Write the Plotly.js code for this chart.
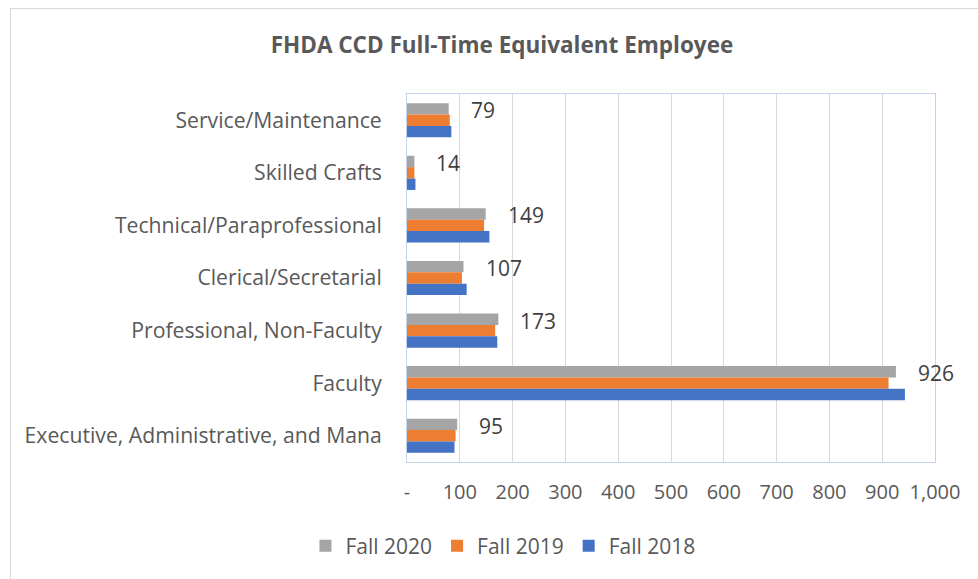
<!DOCTYPE html>
<html>
<head>
<meta charset="utf-8">
<script src="https://cdn.plot.ly/plotly-3.0.1.min.js"></script>
<style>
  html, body { margin: 0; padding: 0; background: #fff; overflow: hidden; width: 978px; height: 579px; }
  #frame { position: absolute; left: 10px; top: 8px; border-left: 1px solid #D9D9D9; border-top: 1px solid #D9D9D9; width: 1000px; height: 600px; overflow: hidden; }
  #chart { width: 980px; height: 580px; }
</style>
</head>
<body>
<div id="frame"><div id="chart"></div></div>
<script>
// Categories listed top to bottom as in the chart
const categories = [
  "Service/Maintenance",
  "Skilled Crafts",
  "Technical/Paraprofessional",
  "Clerical/Secretarial",
  "Professional, Non-Faculty",
  "Faculty",
  "Executive, Administrative, and Mana"
];
const fall2020 = [79, 14, 149, 107, 173, 926, 95];
const fall2019 = [81, 14, 146, 104, 167, 912, 92];
const fall2018 = [84, 16, 156, 113, 171, 943, 90];
const seriesNames = ["Fall 2020", "Fall 2019", "Fall 2018"];
const xTickVals = [0, 100, 200, 300, 400, 500, 600, 700, 800, 900, 1000];
const xTickText = ["-", "100", "200", "300", "400", "500", "600", "700", "800", "900", "1,000"];

const FONT = "'Open Sans', Lato, sans-serif";
const colors = ["#A5A5A5", "#ED7D31", "#4472C4"];
const seriesData = [fall2020, fall2019, fall2018];

const traces = seriesData.map((vals, i) => ({
  type: "bar",
  orientation: "h",
  name: seriesNames[i],
  x: vals,
  y: categories,
  marker: { color: colors[i] },
  hoverinfo: "x+name"
}));

const annotations = fall2020.map((v, i) => ({
  x: v,
  y: categories[i],
  xref: "x",
  yref: "y",
  text: String(v),
  showarrow: false,
  xanchor: "left",
  yanchor: "middle",
  xshift: 20,
  yshift: 10,
  font: { family: FONT, size: 21, color: "#404040" }
}));

const layout = {
  width: 980,
  height: 580,
  margin: { l: 396, r: 56, t: 85, b: 127 },
  paper_bgcolor: "#ffffff",
  plot_bgcolor: "#ffffff",
  barmode: "group",
  bargap: 0.35,
  bargroupgap: 0,
  title: {
    text: "<b>FHDA CCD Full-Time Equivalent Employee</b>",
    font: { family: FONT, size: 22.5, color: "#595959" },
    x: 0.501,
    xref: "container",
    xanchor: "center",
    y: 0.938,
    yref: "container",
    yanchor: "middle"
  },
  xaxis: {
    range: [0, 1000],
    tickvals: xTickVals,
    ticktext: xTickText,
    showgrid: true,
    gridcolor: "#D9D9D9",
    gridwidth: 1,
    zeroline: false,
    showline: true,
    linecolor: "#C5D3EC",
    linewidth: 1,
    mirror: true,
    ticks: "outside",
    ticklen: 12,
    tickcolor: "rgba(0,0,0,0)",
    tickfont: { family: FONT, size: 20, color: "#595959" },
    fixedrange: true
  },
  yaxis: {
    type: "category",
    autorange: "reversed",
    showgrid: false,
    zeroline: false,
    showline: true,
    linecolor: "#C5D3EC",
    linewidth: 1,
    mirror: true,
    ticks: "outside",
    ticklen: 20,
    tickcolor: "rgba(0,0,0,0)",
    tickfont: { family: FONT, size: 21.2, color: "#595959" },
    fixedrange: true
  },
  legend: {
    orientation: "h",
    xref: "container",
    yref: "container",
    x: 0.502,
    xanchor: "center",
    y: 0.074,
    yanchor: "middle",
    itemwidth: 30,
    font: { family: FONT, size: 21, color: "#595959" },
    bgcolor: "rgba(0,0,0,0)"
  },
  annotations: annotations,
  showlegend: true
};

Plotly.newPlot("chart", traces, layout, { displayModeBar: false, staticPlot: true });
</script>
</body>
</html>
